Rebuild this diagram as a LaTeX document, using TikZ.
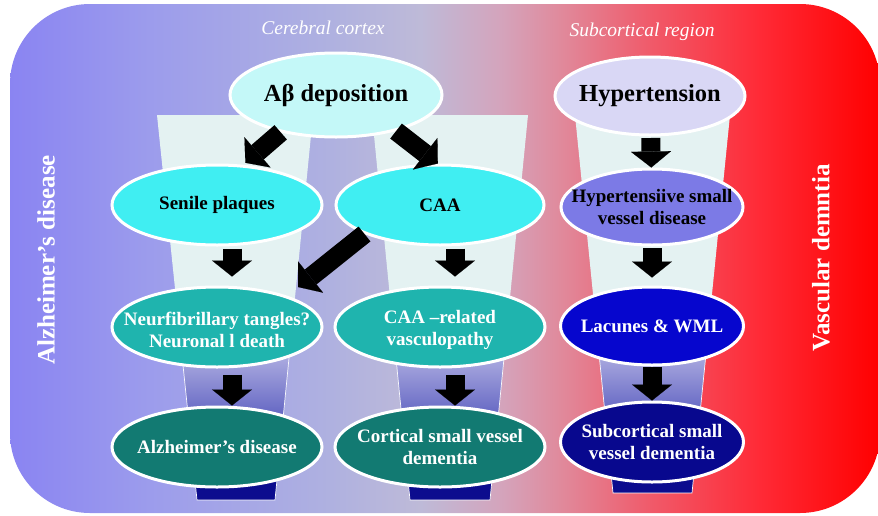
\documentclass[tikz,border=0pt]{standalone}
\usepackage{fontspec}
\setmainfont{Liberation Serif}
\usetikzlibrary{shapes.geometric,arrows.meta}

\definecolor{bgA}{HTML}{8A84F2}
\definecolor{bgB}{HTML}{9C9CEC}
\definecolor{bgC}{HTML}{AFB1E0}
\definecolor{bgD}{HTML}{BEBAD8}
\definecolor{bgE}{HTML}{D4A4BC}
\definecolor{bgF}{HTML}{E08A9C}
\definecolor{bgG}{HTML}{F05A6A}
\definecolor{bgH}{HTML}{FF2A36}
\definecolor{bgI}{HTML}{FF0000}
\definecolor{abfill}{HTML}{C4F8F8}
\definecolor{htfill}{HTML}{D9D7F5}
\definecolor{cyfill}{HTML}{40EEF2}
\definecolor{hsfill}{HTML}{7C7AE6}
\definecolor{tlfill}{HTML}{1FB4AE}
\definecolor{lwfill}{HTML}{0606CE}
\definecolor{dtfill}{HTML}{127A72}
\definecolor{nvfill}{HTML}{08088E}
\definecolor{cuppale}{HTML}{E4F2F2}
\definecolor{cuptop}{HTML}{CFCDEE}
\definecolor{cupbot}{HTML}{3E42B4}
\definecolor{cupnavy}{HTML}{0C0C8E}

\pgfdeclarehorizontalshading{bgshade}{100bp}{color(0bp)=(bgA); color(25bp)=(bgA); color(33bp)=(bgB); color(43.4bp)=(bgC); color(48.6bp)=(bgD); color(53.2bp)=(bgE); color(56.6bp)=(bgF); color(61.8bp)=(bgG); color(68.1bp)=(bgH); color(75bp)=(bgI); color(100bp)=(bgI)}

\begin{document}
\begin{tikzpicture}[x=1pt,y=-1pt,
  ell/.style={ellipse,draw=white,line width=3pt,inner sep=0pt},
  bigtxt/.style={font=\fontsize{24.5}{29}\selectfont\bfseries},
  dtxt/.style={font=\fontsize{19}{22.5}\selectfont\bfseries,align=center},
  wtxt/.style={dtxt,text=white},
  region/.style={font=\fontsize{19.5}{23}\selectfont\itshape,text=white},
  side/.style={font=\fontsize{25}{30}\selectfont\bfseries,text=white,rotate=90},
  blockarr/.style={line width=19pt,-{Triangle[width=40pt,length=16pt,line width=0.1pt]}}]
\useasboundingbox (0,0) rectangle (878,515);
\shade[shading=bgshade,rounded corners=80pt] (10,4) rectangle (880,513);

% cups behind the columns
\foreach \xa/\xb/\xc/\xd/\ye/\ym/\yn in {157/313/197/275/500/327/447,372/528/410/490/500/327/447,575/730/613/692/493/326/442}{
  \begin{scope}
    \clip (\xa,115) -- (\xb,115) -- (\xd,\ye) -- (\xc,\ye) -- cycle;
    \fill[cuppale] (\xa,115) rectangle (\xb,\ym);
    \shade[top color=cuptop,bottom color=cupbot] (\xa,\ym) rectangle (\xb,\yn);
    \fill[cupnavy] (\xa,\yn) rectangle (\xb,\ye);
  \end{scope}
  \begin{scope}
    \clip (\xa-5,\ym) rectangle (\xb+5,\ye+5);
    \draw[white!85!cuptop,line width=0.7pt] (\xa,115) -- (\xb,115) -- (\xd,\ye) -- (\xc,\ye) -- cycle;
  \end{scope}
}

\node[region] (cc) at (323,28) {Cerebral cortex};
\node[region] (scr) at (642,32) {Subcortical region};
\node[side] (ad) at (46,260) {Alzheimer’s disease};
\node[side] (vd) at (821,258) {Vascular demntia};

% cerebral cortex
\node[ell,fill=abfill,minimum width=212pt,minimum height=84pt] (ab) at (336,95) {};
\node[bigtxt] (ab-t) at (ab) {Aβ deposition};
\node[ell,fill=cyfill,minimum width=210pt,minimum height=80pt] (sp) at (217,205) {};
\node[dtxt] (sp-t) at (sp) {Senile plaques};
\node[ell,fill=cyfill,minimum width=208pt,minimum height=80pt] (caa) at (440,205) {};
\node[dtxt] (caa-t) at (caa) {CAA};
\node[ell,fill=tlfill,minimum width=210pt,minimum height=80pt] (nt) at (217,327) {};
\node[wtxt] (nt-t) at ([yshift=-3pt]nt) {Neurfibrillary tangles?\\Neuronal l death};
\node[ell,fill=tlfill,minimum width=210pt,minimum height=80pt] (cr) at (440,327) {};
\node[wtxt] (cr-t) at ([yshift=-3pt]cr) {CAA –related\\vasculopathy};
\node[ell,fill=dtfill,minimum width=210pt,minimum height=80pt] (alz) at (217,447) {};
\node[wtxt] (alz-t) at (alz) {Alzheimer’s disease};
\node[ell,fill=dtfill,minimum width=210pt,minimum height=80pt] (cort) at (440,447) {};
\node[wtxt] (cort-t) at (cort) {Cortical small vessel\\dementia};

% subcortical region
\node[ell,fill=htfill,minimum width=190pt,minimum height=78pt] (ht) at (650,96) {};
\node[bigtxt] (ht-t) at (ht) {Hypertension};
\node[ell,fill=hsfill,minimum width=182pt,minimum height=76pt] (hs) at (652,207) {};
\node[dtxt] (hs-t) at (hs) {Hypertensiive small\\vessel disease};
\node[ell,fill=lwfill,minimum width=183pt,minimum height=78pt] (lw) at (652,326) {};
\node[wtxt] (lw-t) at (lw) {Lacunes \& WML};
\node[ell,fill=nvfill,minimum width=183pt,minimum height=80pt] (sc) at (652,442) {};
\node[wtxt] (sc-t) at (sc) {Subcortical small\\vessel dementia};

% arrows
\draw[blockarr,shorten >=3pt] (ab.214) -- (sp.57);
\draw[blockarr] (ab.329) -- (caa.93);
\draw[blockarr,shorten >=14pt] (caa.201) -- (nt.24);
\draw[blockarr,shorten <=2pt,shorten >=9pt] ([xshift=15pt]sp.south) -- ([xshift=15pt]nt.north);
\draw[blockarr,shorten <=2pt,shorten >=9pt] ([xshift=15pt]caa.south) -- ([xshift=15pt]cr.north);
\draw[blockarr,shorten <=6pt] ([xshift=15pt]nt.south) -- ([xshift=15pt]alz.north);
\draw[blockarr,shorten <=6pt] ([xshift=15pt]cr.south) -- ([xshift=15pt]cort.north);
\draw[blockarr,shorten <=1.5pt] (ht) -- (hs);
\draw[blockarr,shorten <=1.5pt,shorten >=8pt] (hs) -- (lw);
\draw[blockarr] (lw) -- (sc);
\end{tikzpicture}
\end{document}
